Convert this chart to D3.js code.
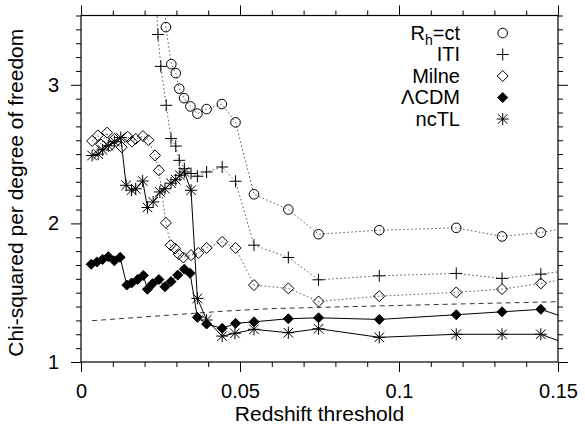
<!DOCTYPE html>
<html>
<head>
<meta charset="utf-8">
<script src="https://cdn.jsdelivr.net/npm/d3@7"></script>
<style>
  body { margin: 0; background: #fff; }
  svg { display: block; }
  text { font-family: "Liberation Sans", Arial, sans-serif; fill: #000; }
</style>
</head>
<body>
<svg id="chart" width="585" height="435"></svg>
<script>
// R_h = ct (open circles, dotted)
const rhX = [0.0255, 0.0267, 0.0284, 0.0298, 0.0309, 0.0324, 0.0344, 0.0366, 0.0395, 0.0443, 0.0486, 0.0544, 0.0652, 0.0747, 0.0938, 0.118, 0.1324, 0.1446, 0.16];
const rhY = [4.2, 3.416, 3.149, 3.084, 2.972, 2.904, 2.844, 2.792, 2.825, 2.861, 2.729, 2.21, 2.10, 1.922, 1.951, 1.968, 1.906, 1.934, 2.0];

// ITI (plus, dotted)
const itiX = [0.022, 0.0242, 0.0251, 0.0268, 0.0283, 0.0298, 0.0309, 0.0325, 0.0346, 0.0366, 0.0395, 0.0444, 0.0486, 0.0544, 0.0652, 0.0747, 0.0938, 0.118, 0.1324, 0.1446, 0.16];
const itiY = [4.3, 3.363, 3.133, 2.852, 2.612, 2.558, 2.455, 2.395, 2.36, 2.34, 2.371, 2.407, 2.304, 1.843, 1.754, 1.593, 1.622, 1.639, 1.603, 1.634, 1.68];

// Milne (open diamonds, dotted)
const milneX = [0.0035, 0.0053, 0.0063, 0.0082, 0.0092, 0.0105, 0.0128, 0.0147, 0.0160, 0.0172, 0.0195, 0.0212, 0.0233, 0.0245, 0.0267, 0.0282, 0.0296, 0.0307, 0.0322, 0.0346, 0.0369, 0.0395, 0.0444, 0.0486, 0.0544, 0.0652, 0.0747, 0.0938, 0.118, 0.1324, 0.1446, 0.16];
const milneY = [2.595, 2.635, 2.57, 2.655, 2.56, 2.61, 2.55, 2.625, 2.59, 2.61, 2.63, 2.6, 2.49, 2.383, 2.004, 1.843, 1.819, 1.778, 1.754, 1.771, 1.787, 1.823, 1.867, 1.823, 1.555, 1.531, 1.437, 1.475, 1.502, 1.526, 1.567, 1.63];

// LambdaCDM (filled diamonds, solid)
const lcdmX = [0.0032, 0.0050, 0.0068, 0.0086, 0.0105, 0.0123, 0.0144, 0.0159, 0.0178, 0.0196, 0.0209, 0.0225, 0.0245, 0.0264, 0.0283, 0.0304, 0.0325, 0.0343, 0.0366, 0.0395, 0.0444, 0.0486, 0.0544, 0.0652, 0.0747, 0.0938, 0.118, 0.1324, 0.1446, 0.16];
const lcdmY = [1.705, 1.722, 1.74, 1.76, 1.73, 1.755, 1.555, 1.57, 1.595, 1.625, 1.525, 1.565, 1.595, 1.543, 1.58, 1.627, 1.67, 1.64, 1.322, 1.274, 1.243, 1.279, 1.29, 1.312, 1.319, 1.307, 1.341, 1.362, 1.38, 1.26];

// ncTL (asterisks, solid)
const nctlX = [0.0035, 0.0054, 0.0068, 0.0086, 0.0105, 0.0125, 0.0142, 0.0159, 0.0172, 0.0194, 0.0209, 0.0227, 0.0248, 0.0264, 0.0283, 0.0298, 0.0311, 0.0325, 0.0346, 0.0366, 0.0395, 0.0444, 0.0484, 0.0544, 0.0652, 0.0747, 0.0938, 0.118, 0.1324, 0.1446, 0.16];
const nctlY = [2.49, 2.50, 2.53, 2.56, 2.59, 2.62, 2.275, 2.24, 2.25, 2.306, 2.115, 2.155, 2.227, 2.25, 2.29, 2.315, 2.347, 2.371, 2.239, 1.459, 1.303, 1.187, 1.207, 1.236, 1.211, 1.24, 1.178, 1.2, 1.2, 1.2, 1.07];

// reference curve (dashed, no key entry)
const refX = [0.0035, 0.015, 0.03, 0.045, 0.06, 0.08, 0.1, 0.125, 0.15];
const refY = [1.298, 1.317, 1.342, 1.367, 1.385, 1.397, 1.408, 1.422, 1.435];

const legendLabels = ["R_h=ct", "ITI", "Milne", "\u039BCDM", "ncTL"];
const xMajor = [0, 0.05, 0.1, 0.15];
const yMajor = [1, 2, 3];

const svg = d3.select("#chart");
const plotLeft = 81, plotRight = 558, plotTop = 15.5, plotBottom = 362;

const x = d3.scaleLinear().domain([0, 0.15]).range([plotLeft, plotRight]);
const y = d3.scaleLinear().domain([1, 3.5]).range([plotBottom, plotTop]);

const xMinor = d3.range(0, 0.1501, 0.01).filter(v => !xMajor.some(m => Math.abs(m - v) < 1e-9));
const yMinor = d3.range(1, 3.501, 0.1).filter(v => !yMajor.some(m => Math.abs(m - v) < 1e-9));

svg.append("defs").append("clipPath").attr("id", "plotClip")
  .append("rect")
  .attr("x", plotLeft).attr("y", plotTop)
  .attr("width", plotRight - plotLeft).attr("height", plotBottom - plotTop);

// axes, ticks outward on all four sides
function addAxis(axis, tx, ty, size, values, fmt, pad) {
  const g = svg.append("g")
    .attr("transform", `translate(${tx},${ty})`)
    .call(axis.tickValues(values).tickSize(size).tickPadding(pad).tickFormat(fmt));
  g.select(".domain").remove();
  g.selectAll("line").attr("stroke", "#000").attr("stroke-width", 1);
  g.selectAll("text").attr("font-size", "20px").attr("font-family", null).attr("fill", "#000");
  return g;
}
const xFmt = d => d === 0 ? "0" : d3.format(".2~f")(d);
addAxis(d3.axisBottom(x), 0, plotBottom, 10, xMajor, xFmt, 12);
addAxis(d3.axisBottom(x), 0, plotBottom, 5, xMinor, "", 0);
addAxis(d3.axisTop(x), 0, plotTop, 10, xMajor, "", 0);
addAxis(d3.axisTop(x), 0, plotTop, 5, xMinor, "", 0);
addAxis(d3.axisLeft(y), plotLeft, 0, 10, yMajor, d3.format("d"), 12);
addAxis(d3.axisLeft(y), plotLeft, 0, 5, yMinor, "", 0);
addAxis(d3.axisRight(y), plotRight, 0, 10, yMajor, "", 0);
addAxis(d3.axisRight(y), plotRight, 0, 5, yMinor, "", 0);

svg.append("rect")
  .attr("x", plotLeft).attr("y", plotTop)
  .attr("width", plotRight - plotLeft).attr("height", plotBottom - plotTop)
  .attr("fill", "none").attr("stroke", "#000").attr("stroke-width", 1.2);

// axis titles
svg.append("text")
  .attr("x", (plotLeft + plotRight) / 2).attr("y", 421)
  .attr("text-anchor", "middle").attr("font-size", "21px")
  .text("Redshift threshold");

svg.append("text")
  .attr("transform", `translate(23,${(plotTop + plotBottom) / 2 + 4}) rotate(-90)`)
  .attr("text-anchor", "middle").attr("font-size", "21px")
  .text("Chi-squared per degree of freedom");

// marker shapes
function markerPath(type, s) {
  if (type === "plus") return `M${-s},0H${s}M0,${-s}V${s}`;
  if (type === "star") return `M${-s},0H${s}M0,${-s}V${s}M${-s * 0.8},${-s * 0.8}L${s * 0.8},${s * 0.8}M${-s * 0.8},${s * 0.8}L${s * 0.8},${-s * 0.8}`;
  if (type === "diamond" || type === "fdiamond") return `M0,${-s}L${s},0L0,${s}L${-s},0Z`;
  return null;
}

function drawMarker(g, type, cx, cy) {
  if (type === "circle") {
    g.append("circle").attr("cx", cx).attr("cy", cy).attr("r", 4.8)
      .attr("fill", "none").attr("stroke", "#000").attr("stroke-width", 1);
    return;
  }
  const size = { plus: 6, star: 6, diamond: 5.5, fdiamond: 5 }[type];
  g.append("path")
    .attr("transform", `translate(${cx},${cy})`)
    .attr("d", markerPath(type, size))
    .attr("fill", type === "fdiamond" ? "#000" : "none")
    .attr("stroke", "#000")
    .attr("stroke-width", 1);
}

const series = [
  { xs: rhX, ys: rhY, marker: "circle", dash: "1.5,2.5", color: "#555" },
  { xs: itiX, ys: itiY, marker: "plus", dash: "1.5,2.5", color: "#555" },
  { xs: milneX, ys: milneY, marker: "diamond", dash: "1.5,2.5", color: "#555" },
  { xs: lcdmX, ys: lcdmY, marker: "fdiamond", dash: null, color: "#000" },
  { xs: nctlX, ys: nctlY, marker: "star", dash: null, color: "#000" }
];

const line = d3.line().x(d => x(d[0])).y(d => y(d[1]));
const plot = svg.append("g").attr("clip-path", "url(#plotClip)");

plot.append("path")
  .datum(d3.zip(refX, refY))
  .attr("d", line)
  .attr("fill", "none").attr("stroke", "#333").attr("stroke-width", 1)
  .attr("stroke-dasharray", "5,4");

series.forEach(s => {
  const pts = d3.zip(s.xs, s.ys);
  plot.append("path")
    .datum(pts)
    .attr("d", line)
    .attr("fill", "none")
    .attr("stroke", s.color)
    .attr("stroke-width", 1)
    .attr("stroke-dasharray", s.dash);
  const mg = plot.append("g");
  pts.forEach(p => drawMarker(mg, s.marker, x(p[0]), y(p[1])));
});

// key
const key = svg.append("g");
legendLabels.forEach((label, i) => {
  const base = 39.5 + i * 21.5;
  const t = key.append("text")
    .attr("x", 460).attr("y", base)
    .attr("text-anchor", "end").attr("font-size", "20px");
  if (label.indexOf("_") >= 0) {
    const parts = label.split("_");
    t.append("tspan").text(parts[0]);
    t.append("tspan").attr("font-size", "14px").attr("dy", 5).text(parts[1].slice(0, 1));
    t.append("tspan").attr("dy", -5).text(parts[1].slice(1));
  } else {
    t.text(label);
  }
  drawMarker(key, series[i].marker, 502.7, base - 6.5);
});
</script>
</body>
</html>
